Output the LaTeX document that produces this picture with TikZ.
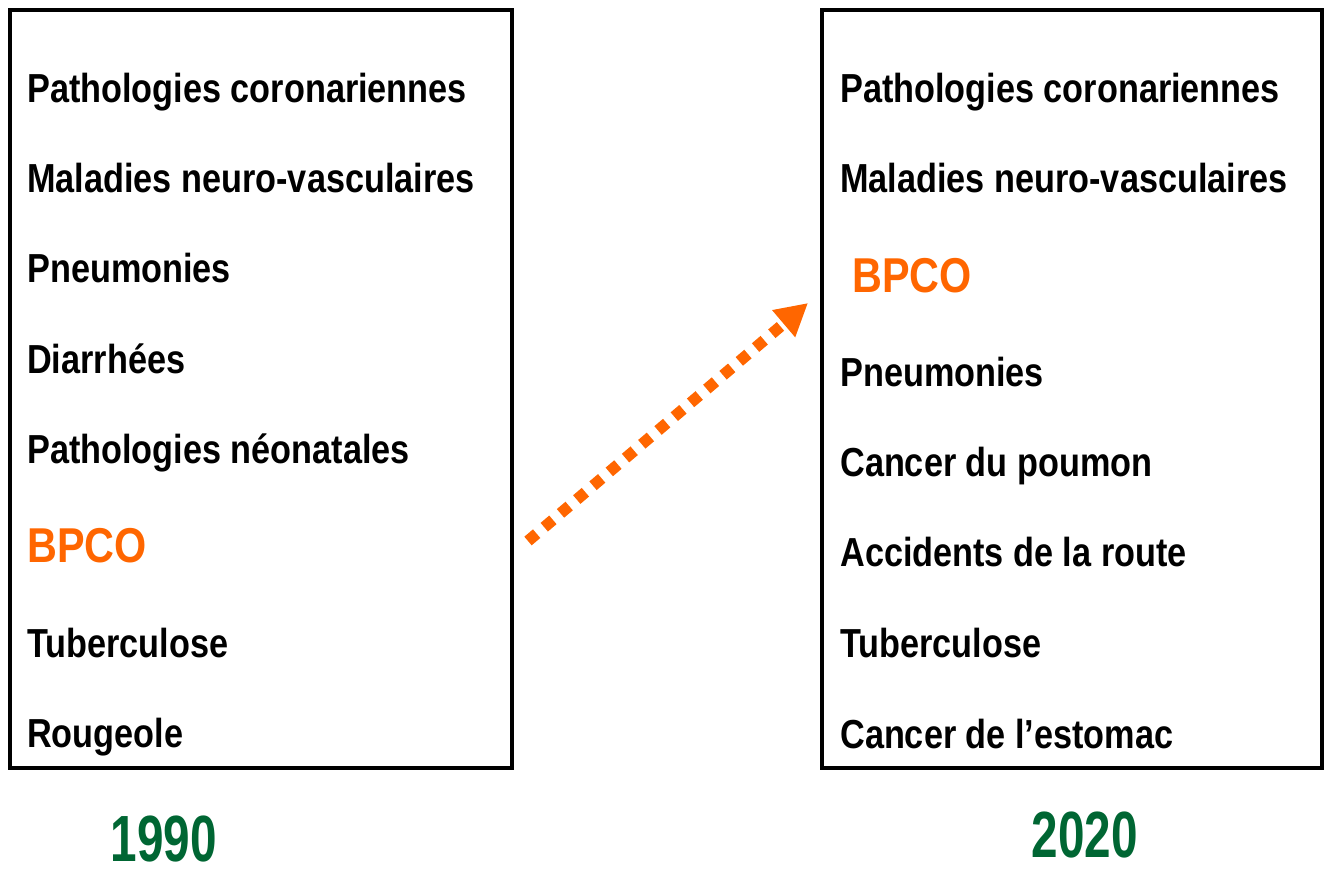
\documentclass[tikz,border=0pt]{standalone}
\usepackage{fontspec}
\setmainfont{Liberation Sans}
\newfontfamily\labfont{Liberation Sans}[FakeStretch=0.845]
\newfontfamily\yearfont{Liberation Sans}[FakeStretch=0.73]
\usetikzlibrary{arrows.meta}
\definecolor{bpco}{HTML}{FF6600}
\definecolor{yeargreen}{HTML}{006633}
\begin{document}
\begin{tikzpicture}[x=0.75pt,y=-0.75pt,
  panel/.style={draw=black,line width=3pt},
  item/.style={anchor=base west,inner sep=0pt,font=\labfont\bfseries\fontsize{30.4pt}{32pt}\selectfont},
  hl/.style={anchor=base west,inner sep=0pt,text=bpco,font=\labfont\bfseries\fontsize{36.7pt}{38pt}\selectfont},
  year/.style={anchor=base,inner sep=0pt,text depth=0pt,text=yeargreen,font=\yearfont\bfseries\fontsize{49pt}{50pt}\selectfont},
  trend/.style={draw=bpco,line width=8.5pt,dash pattern=on 8.5pt off 7.5pt,-{Triangle[length=24pt,width=25pt]}}]
\useasboundingbox (0,0) rectangle (1325,868);
\draw[panel] (10,10) rectangle (512,768);
\draw[panel] (822,10) rectangle (1322,768);
% 1990
\node[item] (l1) at (27,102) {Pathologies coronariennes};
\node[item] (l2) at (27,192) {Maladies neuro-vasculaires};
\node[item] (l3) at (27,282) {Pneumonies};
\node[item] (l4) at (27,373) {Diarrhées};
\node[item] (l5) at (27,463) {Pathologies néonatales};
\node[hl]   (l6) at (27,562) {BPCO};
\node[item] (l7) at (27,657) {Tuberculose};
\node[item] (l8) at (27,747) {Rougeole};
% 2020
\node[item] (r1) at (840,102) {Pathologies coronariennes};
\node[item] (r2) at (840,192) {Maladies neuro-vasculaires};
\node[hl]   (r3) at (852,292) {BPCO};
\node[item] (r4) at (840,386) {Pneumonies};
\node[item] (r5) at (840,476) {Cancer du poumon};
\node[item] (r6) at (840,566) {Accidents de la route};
\node[item] (r7) at (840,657) {Tuberculose};
\node[item] (r8) at (840,748) {Cancer de l’estomac};
\node[year] (y1) at (164,861) {1990};
\node[year] (y2) at (1085,857) {2020};
\coordinate (from) at (528,541);
\coordinate (to) at (808,303);
\draw[trend] (from) -- (to);
\end{tikzpicture}
\end{document}
